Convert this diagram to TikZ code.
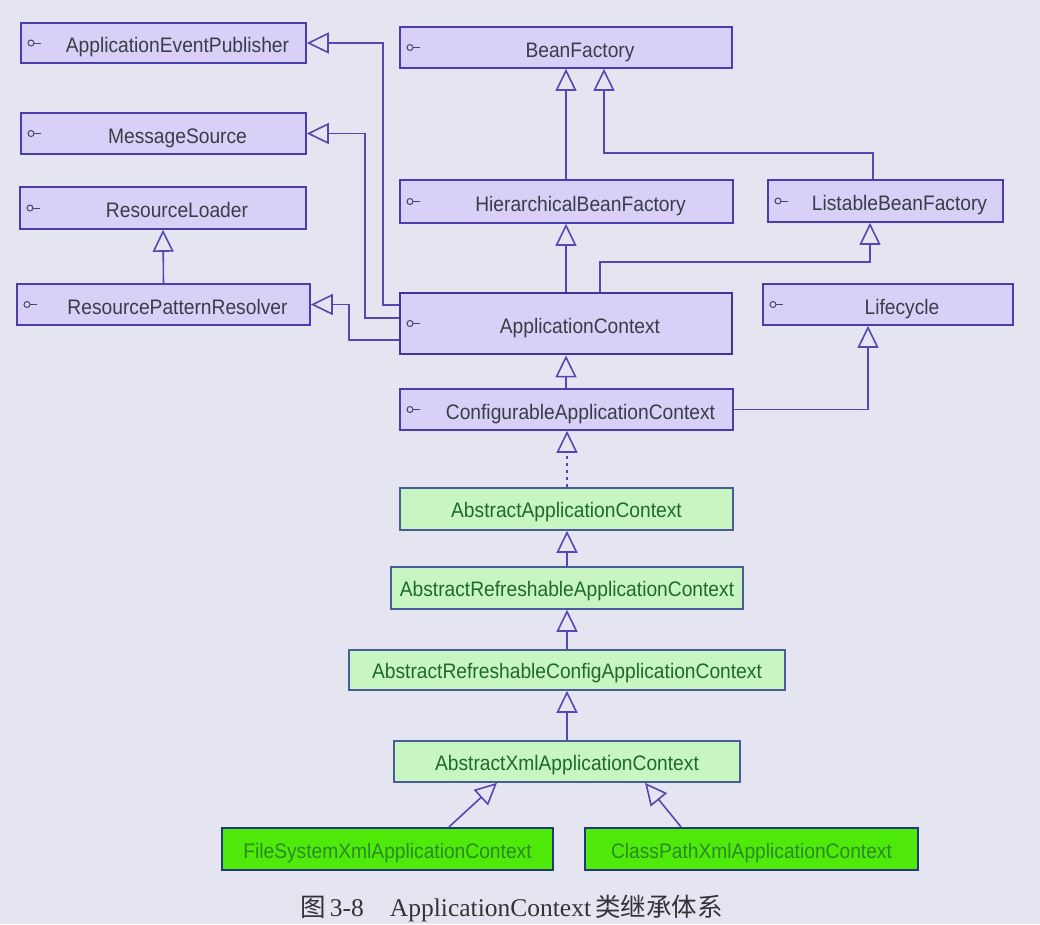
\documentclass[tikz,border=0pt]{standalone}
\usepackage{fontspec}
\setmainfont{Liberation Serif}
\newfontfamily\boxfont[FakeStretch=0.915]{Liberation Sans}
\newfontfamily\cjk{Noto Sans CJK SC}
\usetikzlibrary{arrows.meta}

\definecolor{bgcol}{HTML}{E5E5F1}
\definecolor{iffill}{HTML}{D8D0F7}
\definecolor{ifborder}{HTML}{4B3DB0}
\definecolor{iftext}{HTML}{3C3C48}
\definecolor{lncol}{HTML}{5548B0}
\definecolor{icocol}{HTML}{4A4270}
\definecolor{gfill}{HTML}{C8F6C2}
\definecolor{gborder}{HTML}{4A5C98}
\definecolor{gtext}{HTML}{1E6A2A}
\definecolor{vfill}{HTML}{4FEA0A}
\definecolor{vborder}{HTML}{1E3A7A}
\definecolor{vtext}{HTML}{2A8A26}
\definecolor{captext}{HTML}{333333}

\tikzset{
  boxbase/.style={inner sep=0pt, text height=19pt, text depth=0pt,
    font=\boxfont\fontsize{21}{24}\selectfont},
  iface/.style={boxbase, draw=ifborder, fill=iffill, line width=1.6pt, text=iftext,
    path picture={
      \coordinate (pw) at (path picture bounding box.west);
      \draw[icocol, line width=1pt] ([xshift=10pt]pw) circle (3pt);
      \draw[icocol, line width=1pt] ([xshift=13pt]pw) -- ([xshift=20pt]pw);
    }},
  mainiface/.style={iface, line width=2.8pt, draw=ifborder!85!black},
  absbox/.style={boxbase, text height=17pt, draw=gborder, fill=gfill, line width=1.6pt, text=gtext},
  concbox/.style={boxbase, text height=18pt, draw=vborder, fill=vfill, line width=2.2pt, text=vtext},
  inh/.style={draw=lncol, line width=1.6pt,
    -{Triangle[open, length=22pt, width=21pt, line width=1.6pt]}},
  realize/.style={inh, dash pattern=on 3pt off 4pt},
}
% text in interface boxes sits to the right of the lollipop icon
\newcommand{\ifname}[1]{\hspace*{28pt}#1}

\begin{document}
\begin{tikzpicture}[x=1pt, y=-1pt]
  \fill[bgcol] (0,0) rectangle (1040,924);
  \useasboundingbox (0,0) rectangle (1040,924);

  % left column of interfaces
  \node[iface, minimum width=285pt, minimum height=40pt] (aep) at (163.5,43) {\ifname{ApplicationEventPublisher}};
  \node[iface, minimum width=285pt, minimum height=41pt] (ms) at (163.5,133.5) {\ifname{MessageSource}};
  \node[iface, minimum width=286pt, minimum height=42pt] (rl) at (163,208) {\ifname{ResourceLoader}};
  \node[iface, minimum width=293pt, minimum height=41pt] (rpr) at (163.5,304.5) {\ifname{ResourcePatternResolver}};

  % bean factory interfaces
  \node[iface, minimum width=332pt, minimum height=41pt] (bf) at (566,47.5) {\ifname{BeanFactory}};
  \node[iface, minimum width=333pt, minimum height=43pt] (hbf) at (566.5,201.5) {\ifname{HierarchicalBeanFactory}};
  \node[iface, minimum width=235pt, minimum height=42pt] (lbf) at (885.5,201) {\ifname{ListableBeanFactory}};

  % context interfaces
  \node[mainiface, minimum width=332pt, minimum height=61pt] (ac) at (566,323.5) {\ifname{ApplicationContext}};
  \node[iface, minimum width=250pt, minimum height=41pt] (lc) at (888,304.5) {\ifname{Lifecycle}};
  \node[iface, minimum width=333pt, minimum height=41pt] (cac) at (566.5,409.5) {\ifname{ConfigurableApplicationContext}};

  % abstract classes
  \node[absbox, minimum width=333pt, minimum height=42pt] (aac) at (566.5,509) {AbstractApplicationContext};
  \node[absbox, minimum width=352pt, minimum height=42pt] (arac) at (567,588) {AbstractRefreshableApplicationContext};
  \node[absbox, minimum width=436pt, minimum height=40pt] (arcac) at (567,670) {AbstractRefreshableConfigApplicationContext};
  \node[absbox, minimum width=346pt, minimum height=41pt] (axac) at (567,761.5) {AbstractXmlApplicationContext};

  % concrete classes
  \node[concbox, minimum width=331pt, minimum height=42pt] (fs) at (387.5,849) {FileSystemXmlApplicationContext};
  \node[concbox, minimum width=333pt, minimum height=42pt] (cp) at (751.5,849) {ClassPathXmlApplicationContext};

  % inheritance connectors
  \draw[inh] (ac.west |- 0,305) -| (383,43) -- (aep.east);
  \draw[inh] (ac.west |- 0,318) -| (365,133.5) -- (ms.east);
  \draw[inh] (ac.west |- 0,340) -| (349,304.5) -- (rpr.east);
  \draw[inh] (rpr.north) -- (rl.south);

  \draw[inh] (hbf.north -| 566,0) -- (bf.south -| 566,0);
  \draw[inh] (lbf.north -| 873,0) |- (604,153) -- (bf.south -| 604,0);
  \draw[inh] (ac.north -| 566,0) -- (hbf.south -| 566,0);
  \draw[inh] (ac.north -| 600,0) |- (870,262) -- (lbf.south -| 870,0);

  \draw[inh] (cac.north -| 566,0) -- (ac.south -| 566,0);
  \draw[inh] (cac.east) -| (lc.south -| 868,0);
  \draw[realize] (aac.north -| 567,0) -- (cac.south -| 567,0);

  \draw[inh] (arac.north -| 567,0) -- (aac.south -| 567,0);
  \draw[inh] (arcac.north -| 567,0) -- (arac.south -| 567,0);
  \draw[inh] (axac.north -| 567,0) -- (arcac.south -| 567,0);

  \draw[inh] (fs.north -| 449,0) -- (axac.south -| 497,0);
  \draw[inh] (cp.north -| 681,0) -- (axac.south -| 645,0);

  % figure caption
  \node[anchor=base west, inner sep=0pt, text=captext, font=\fontsize{25.5}{28}\selectfont] (cap) at (300,916)
    {{\cjk 图}\,3-8\hspace{26pt}ApplicationContext\,{\cjk 类继承体系}};
\end{tikzpicture}
\end{document}
